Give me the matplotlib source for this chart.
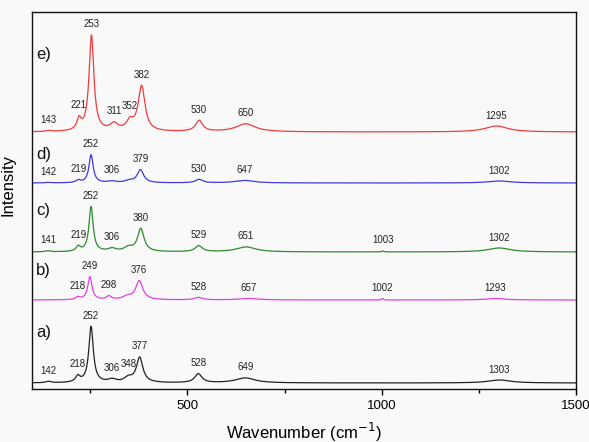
import numpy as np
import matplotlib
matplotlib.use("Agg")
import matplotlib.pyplot as plt
from matplotlib.ticker import MultipleLocator

plt.rcParams['font.family'] = ['Liberation Sans', 'DejaVu Sans']

# ---- data (peak positions cm-1, heights a.u., FWHM cm-1) ----
panel_names = ["a)", "b)", "c)", "d)", "e)"]
offsets = [6, 89, 137, 206, 257]

pos_a = [142, 218, 252, 306, 348, 377, 528, 649, 1303]
amp_a = [1.5, 6, 56, 3, 4.5, 25, 9, 5, 3]
fwhm_a = [15, 14, 14, 25, 25, 20, 22, 60, 70]

pos_b = [218, 249, 298, 345, 376, 528, 657, 1002, 1293]
amp_b = [2.5, 23, 3.5, 3, 19, 2.5, 1.5, 1.5, 1.5]
fwhm_b = [14, 13, 15, 25, 22, 24, 60, 5, 60]

pos_c = [141, 219, 252, 306, 348, 380, 529, 651, 1003, 1302]
amp_c = [1, 5, 45, 3, 4, 23, 6, 5, 1, 4]
fwhm_c = [15, 13, 13, 25, 25, 20, 22, 60, 5, 70]

pos_d = [142, 219, 252, 306, 350, 379, 530, 647, 1302]
amp_d = [0.5, 2.5, 28, 1.5, 2, 13, 3.5, 2.5, 2]
fwhm_d = [15, 13, 13, 25, 25, 20, 22, 60, 70]

pos_e = [143, 221, 253, 311, 352, 382, 530, 650, 1295]
amp_e = [1, 11, 96, 7, 9, 45, 11, 8, 6]
fwhm_e = [15, 13, 15, 24, 22, 21, 22, 60, 70]

# labelled peaks per spectrum
labels_a = [142, 218, 252, 306, 348, 377, 528, 649, 1303]
labels_b = [218, 249, 298, 376, 528, 657, 1002, 1293]
labels_c = [141, 219, 252, 306, 380, 529, 651, 1003, 1302]
labels_d = [142, 219, 252, 306, 379, 530, 647, 1302]
labels_e = [143, 221, 253, 311, 352, 382, 530, 650, 1295]

colors = ["#222222", "#e040e0", "#2e8b2e", "#3c3cdc", "#f03c3c"]

spectra = [
    (pos_a, amp_a, fwhm_a, labels_a),
    (pos_b, amp_b, fwhm_b, labels_b),
    (pos_c, amp_c, fwhm_c, labels_c),
    (pos_d, amp_d, fwhm_d, labels_d),
    (pos_e, amp_e, fwhm_e, labels_e),
]

x = np.linspace(100, 1500, 2801)


def spectrum(pos, amp, fwhm):
    y = np.zeros_like(x)
    for p, a, w in zip(pos, amp, fwhm):
        g = (w / 2.0) ** 2
        y += a * g / ((x - p) ** 2 + g)
    return y


bg = "#f9f9f9"
fig = plt.figure(figsize=(5.89, 4.42), dpi=100, facecolor=bg)
ax = fig.add_axes([32 / 589, 53 / 442, 544 / 589, 377 / 442])
ax.set_facecolor(bg)

for (pos, amp, fwhm, labs), off, col, name in zip(spectra, offsets, colors, panel_names):
    y = spectrum(pos, amp, fwhm) + off
    ax.plot(x, y, color=col, lw=0.9)
    for lab in labs:
        m = (x > lab - 8) & (x < lab + 8)
        ytop = y[m].max()
        ax.annotate(str(lab), (lab, ytop), xytext=(0, 7.5), textcoords="offset points",
                    ha="center", va="center", fontsize=7, color="#222222")

# panel labels
panel_y = [57, 118, 179, 235, 334]
for name, py in zip(panel_names, panel_y):
    ax.text(110, py, name, fontsize=12, ha="left", va="center", color="#111111")

ax.set_xlim(100, 1500)
ax.set_ylim(0, 377)
ax.xaxis.set_major_locator(MultipleLocator(500))
ax.xaxis.set_minor_locator(MultipleLocator(250))
ax.set_yticks([])
ax.tick_params(axis="x", which="major", direction="out", length=4, width=1, labelsize=9.5, pad=4)
ax.tick_params(axis="x", which="minor", direction="out", length=3, width=1)
for s in ax.spines.values():
    s.set_linewidth(1.0)
    s.set_color("#111111")

ax.set_xlabel("Wavenumber (cm$^{-1}$)", fontsize=12, labelpad=6)
ax.set_ylabel("Intensity", fontsize=12)
ax.yaxis.set_label_coords(-0.031, 0.54)

fig.savefig("out.png", dpi=100, facecolor=bg)
